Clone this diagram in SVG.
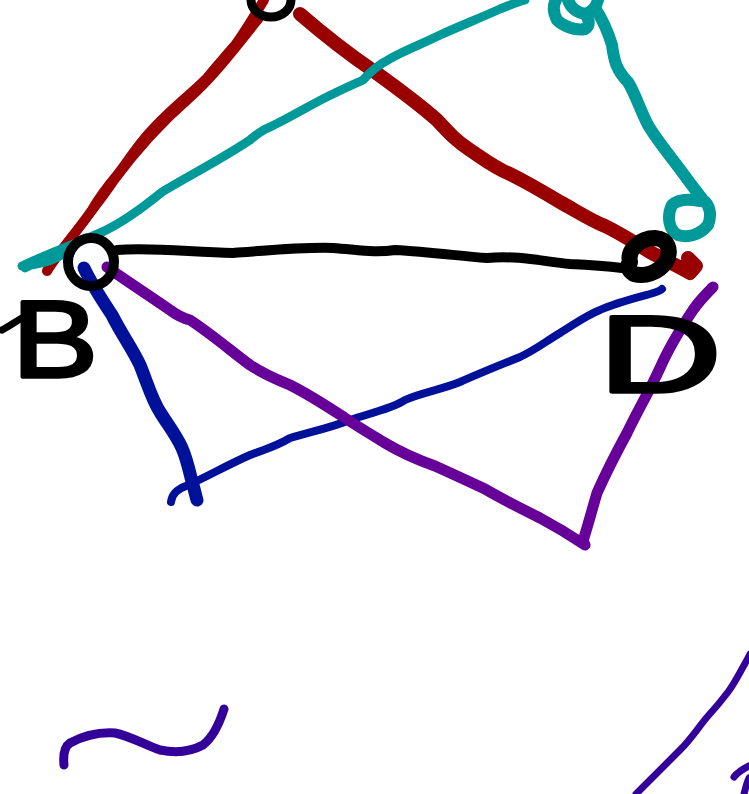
<svg xmlns="http://www.w3.org/2000/svg" width="749" height="794" viewBox="0 0 749 794">
<style>
.s{fill:none;stroke-linecap:round;stroke-linejoin:round}
.red{stroke:#990000}
.teal{stroke:#009999}
.blk{stroke:#000}
.blue{stroke:#001199}
.pur{stroke:#660099}
.ind{stroke:#330099}
.lbl{font-family:"Liberation Sans",Arial,sans-serif;font-weight:normal;font-size:110px;fill:#000;stroke:#000;stroke-width:3.5;stroke-linejoin:round}
</style>
<rect width="749" height="794" fill="#fff"/>
<g id="connectors">
<path class="s red" stroke-width="10" d="M47,271 C60,250 80,228 92,210 C100,196 108,186 118,174 C130,158 140,142 152,130 C170,110 190,95 207,78 C218,65 226,55 236,44 C246,30 255,15 264,0"/>
<path class="s red" stroke-width="6" d="M52,262 C70,240 95,212 115,182 C135,155 160,126 190,100 C215,78 240,45 260,20"/>
<path class="s red" stroke-width="14" d="M300,14 C330,40 350,55 375,72 C400,90 420,105 437,120 C448,132 455,140 470,150 C485,160 495,168 510,174 C530,184 545,193 560,202 C575,210 590,220 605,226 C620,233 635,243 650,252 C665,260 678,266 690,273 L696,266 L688,258"/>
<path class="s teal" stroke-width="9" d="M25,268 C35,262 48,258 60,256 C50,262 35,265 22,266 C45,255 70,246 100,233 C120,224 140,210 162,192 C190,175 220,160 250,140 C258,133 262,130 270,127 C295,115 315,102 335,93 C345,88 352,85 363,80 C372,70 378,65 388,60 C400,52 420,45 440,35 C460,26 480,18 500,9 C510,5 518,2 525,0"/>
<path class="s teal" stroke-width="12" d="M598,0 C596,8 592,12 585,14 C575,12 570,6 568,0 M585,14 C590,20 590,26 585,29 C575,31 563,26 557,20 C553,12 553,5 556,0"/>
<path class="s teal" stroke-width="12" d="M595,8 C603,20 608,32 612,45 C614,60 616,70 628,82 C636,95 640,110 648,125 C658,142 672,158 685,176 C692,186 698,193 703,200 C710,205 712,215 708,225 C700,235 688,238 678,235 C668,230 667,215 672,205 C678,199 690,199 700,201"/>
<path class="s blk" stroke-width="10" d="M117,250 C150,247 190,252 233,253 C270,250 305,247 333,248 C360,250 375,253 395,250 C430,252 460,256 487,258 C520,255 545,262 570,264 C590,265 605,266 622,268"/>
<path class="s blue" stroke-width="13" d="M84,268 C92,285 102,300 112,315 C122,335 132,348 140,365 C148,385 152,400 160,412 C168,425 176,435 182,448 C188,462 190,475 193,485 C195,492 196,497 197,500"/>
<path class="s blue" stroke-width="8" d="M171,502 C172,493 178,489 186,486 C205,478 225,466 250,455 C265,449 275,447 290,438 C310,432 330,428 350,420 C375,412 395,407 405,400 C420,393 440,390 460,382 C480,373 500,365 520,357 C535,350 545,342 560,333 C575,324 585,316 600,310 C615,303 635,298 650,294 C657,292 660,291 662,289"/>
<path class="s pur" stroke-width="11" d="M107,267 C125,280 150,296 170,310 C178,316 182,318 190,320 C210,333 230,350 250,365 C265,375 278,380 290,385 C310,395 325,405 345,418 C360,428 372,435 385,443 C400,452 418,460 435,466 C455,475 470,482 485,489 C500,498 520,508 540,518 C555,526 570,535 585,545 L583,541 C588,525 592,510 597,493 C605,475 615,455 627,433 C638,410 650,390 660,368 C670,345 683,325 693,310 C700,300 708,292 713,287"/>
<path class="s ind" stroke-width="9" d="M64,765 C63,755 64,747 70,743 C85,735 100,732 115,733 C130,736 145,745 160,750 C175,753 190,752 203,745 C212,738 218,728 224,709"/>
<path class="s ind" stroke-width="7" d="M636,794 C650,780 665,765 680,750 C692,738 700,725 708,716 C718,705 722,700 728,692 C735,683 740,672 747,660 L750,654"/>
<path class="s ind" stroke-width="7" d="M734,777 C738,772 743,769 749,766 M744,794 C746,786 748,780 749,778"/>
</g>
<g id="node-top"><ellipse class="s blk" stroke-width="9" cx="271" cy="0" rx="20" ry="17"/></g>
<g id="node-B"><ellipse class="s blk" stroke-width="10" cx="91" cy="262" rx="23" ry="24"/></g>
<g id="node-D"><path class="s blk" stroke-width="16" d="M630,262 C627,250 640,238 655,238 C668,239 672,250 666,262 C658,273 645,277 634,274 C628,270 627,266 630,262 Z"/></g>
<g id="label-B"><path class="s blk" stroke-width="7" d="M2,330 C12,325 20,318 28,315"/><text class="lbl" x="12" y="377" textLength="86" lengthAdjust="spacingAndGlyphs">B</text></g>
<g id="label-D"><text class="lbl" x="598" y="392" textLength="124" lengthAdjust="spacingAndGlyphs">D</text></g>
</svg>
